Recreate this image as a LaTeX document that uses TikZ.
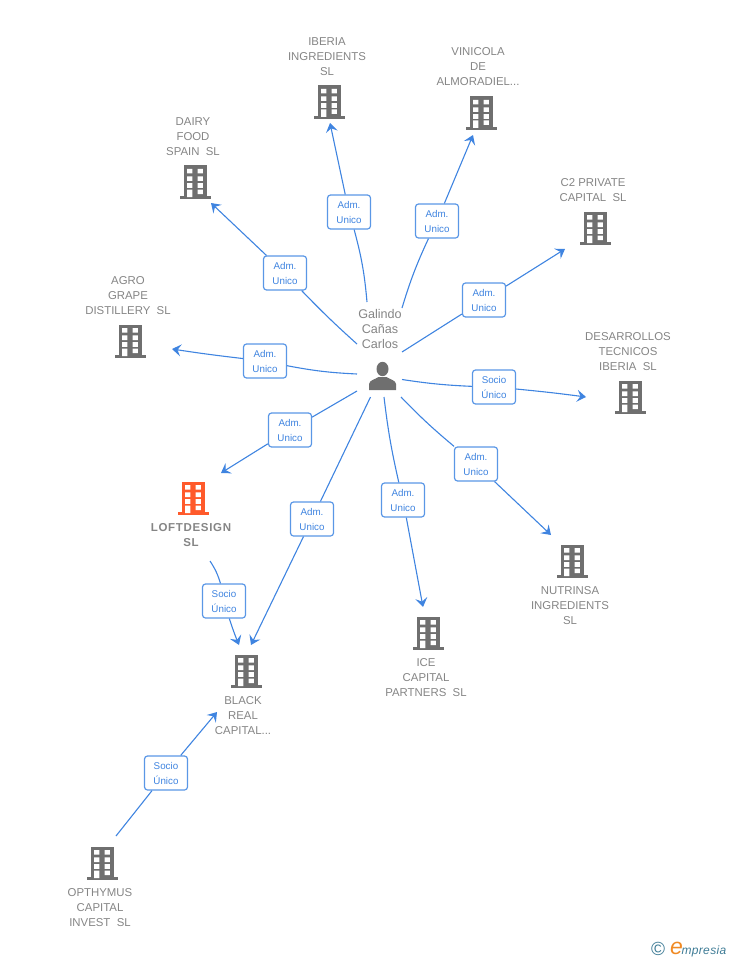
\documentclass[tikz,border=0pt]{standalone}
\usepackage{fontspec}
\setmainfont{Liberation Sans}
\usetikzlibrary{arrows.meta}
\definecolor{linkblue}{HTML}{3F84E0}
\definecolor{boxblue}{HTML}{5A97E6}
\definecolor{textgray}{HTML}{858585}
\definecolor{iconcol}{HTML}{6F6F6F}
\definecolor{hotcol}{HTML}{FF5A2B}
\definecolor{logoteal}{HTML}{3F7C96}
\definecolor{logoorange}{HTML}{F08A24}
\tikzset{
  x=1pt,y=-1pt,
  conn/.style={draw=linkblue,line width=1.1pt},
  arr/.style={conn,-{Stealth[length=9pt,width=12pt,inset=3.5pt]}},
  linkbox/.style={draw=boxblue,line width=1.2pt,rounded corners=3pt,fill=white,
    minimum width=43pt,minimum height=34pt,inner sep=0pt,align=center,
    text=linkblue,font=\fontsize{9.8}{15}\selectfont},
  entity/.style={text=textgray,align=center,inner sep=0pt,font=\fontsize{11.4}{15}\selectfont},
  hotentity/.style={entity,font=\fontsize{11.5}{15}\selectfont\bfseries\addfontfeature{LetterSpace=6}},
  iconbox/.style={minimum width=31pt,minimum height=33pt,inner sep=0pt},
  pics/bldg/.style={code={
    \fill[#1] (-11.5,-16.5) rectangle (11.5,15);
    \fill[#1] (-15.5,14) rectangle (16,17);
    \fill[white]
      (-8,-13) rectangle (-2.7,-8.5) (2.5,-13) rectangle (7.8,-8.5)
      (-8,-5.7) rectangle (-2.7,-1) (2.5,-5.7) rectangle (7.8,-1)
      (-8,1.2) rectangle (-2.7,5.8) (2.5,1.2) rectangle (7.8,5.8)
      (-8,7.5) rectangle (-2.7,15) (2.5,7.5) rectangle (7.8,12);
  }}
}
\begin{document}
\begin{tikzpicture}
\useasboundingbox (0,0) rectangle (728,960);
% icons
\foreach \n/\px/\py/\c in {iberia/329/102/iconcol,vinicola/481/113/iconcol,dairy/195/182/iconcol,
  ctwo/595/228/iconcol,desarrollos/630/397/iconcol,agro/130/341/iconcol,loft/193/498/hotcol,
  black/246/671/iconcol,ice/428/633/iconcol,nutrinsa/572/561/iconcol,opthymus/102/863/iconcol}{
  \node[iconbox] (\n) at (\px,\py) {};
  \pic at (\px,\py) {bldg=\c};
}
% person
\node[iconbox,minimum width=27pt,minimum height=28pt] (person) at (382.5,376) {};
\fill[iconcol] (382.5,369) ellipse (6 and 7.2);
\fill[iconcol] (369,390) -- (369,384) .. controls (369.5,380) and (375,379.5) .. (378.5,377)
  -- (386.5,377) .. controls (390,379.5) and (395.5,380) .. (396,384) -- (396,390) -- cycle;
% texts
\node[entity] (tiberia) at (327,57) {IBERIA\\INGREDIENTS\\SL};
\node[entity] (tvinicola) at (478,67) {VINICOLA\\DE\\ALMORADIEL...};
\node[entity] (tdairy) at (193,137) {DAIRY\\FOOD\\SPAIN\ \ SL};
\node[entity] (tctwo) at (593,190) {C2 PRIVATE\\CAPITAL\ \ SL};
\node[entity] (tdes) at (628,352) {DESARROLLOS\\TECNICOS\\IBERIA\ \ SL};
\node[entity] (tagro) at (128,296) {AGRO\\GRAPE\\DISTILLERY\ \ SL};
\node[hotentity] (tloft) at (191,535) {LOFTDESIGN\\SL};
\node[entity] (tblack) at (243,716) {BLACK\\REAL\\CAPITAL...};
\node[entity] (tice) at (426,678) {ICE\\CAPITAL\\PARTNERS\ \ SL};
\node[entity] (tnut) at (570,606) {NUTRINSA\\INGREDIENTS\\SL};
\node[entity] (topt) at (100,908) {OPTHYMUS\\CAPITAL\\INVEST\ \ SL};
\node[entity,font=\fontsize{12.6}{15}\selectfont] (tperson) at (380,328.5) {Galindo\\Cañas\\Carlos};
% link boxes
\node[linkbox] (l1) at (349,212) {Adm.\\Unico};
\node[linkbox] (l2) at (437,221) {Adm.\\Unico};
\node[linkbox] (l3) at (285,273) {Adm.\\Unico};
\node[linkbox] (l4) at (484,300) {Adm.\\Unico};
\node[linkbox] (l5) at (265,361) {Adm.\\Unico};
\node[linkbox] (l6) at (494,387) {Socio\\Único};
\node[linkbox] (l7) at (290,430) {Adm.\\Unico};
\node[linkbox] (l8) at (312,519) {Adm.\\Unico};
\node[linkbox] (l9) at (403,500) {Adm.\\Unico};
\node[linkbox] (l10) at (476,464) {Adm.\\Unico};
\node[linkbox] (l11) at (224,601) {Socio\\Único};
\node[linkbox] (l12) at (166,773) {Socio\\Único};
% free ends
\coordinate (s1) at (367,302); \coordinate (e1) at (330,123);
\coordinate (s2) at (402,308); \coordinate (e2) at (473,135);
\coordinate (s3) at (357,344); \coordinate (e3) at (211,203);
\coordinate (s4) at (402,352); \coordinate (e4) at (565,249);
\coordinate (s5) at (357,374); \coordinate (e5) at (172,349);
\coordinate (s6) at (402,379.5); \coordinate (e6) at (586,397);
\coordinate (s7) at (357,391); \coordinate (e7) at (221,473);
\coordinate (s8) at (370.5,397); \coordinate (e8) at (251,645);
\coordinate (s9) at (384,397); \coordinate (e9) at (423,607);
\coordinate (s10) at (401,397); \coordinate (e10) at (551,535);
\coordinate (s11) at (210,561); \coordinate (e11) at (239,645);
\coordinate (s12) at (116,836); \coordinate (e12) at (217,712);
% connectors
\draw[conn] (s1) to[bend right=5] (l1);
\draw[arr] (l1) -- (e1);
\draw[conn] (s2) to[bend left=4] (l2);
\draw[arr] (l2) -- (e2);
\draw[conn] (s3) to[bend left=2] (l3);
\draw[arr] (l3) -- (e3);
\draw[conn] (s4) -- (l4);
\draw[arr] (l4) -- (e4);
\draw[conn] (s5) to[bend left=4] (l5);
\draw[arr] (l5) to[bend left=1] (e5);
\draw[conn] (s6) to[bend right=3] (l6);
\draw[arr] (l6) to[bend left=1] (e6);
\draw[conn] (s7) -- (l7);
\draw[arr] (l7) -- (e7);
\draw[conn] (s8) -- (l8);
\draw[arr] (l8) -- (e8);
\draw[conn] (s9) to[bend right=3] (l9);
\draw[arr] (l9) -- (e9);
\draw[conn] (s10) to[bend right=3] (l10);
\draw[arr] (l10) -- (e10);
\draw[conn] (s11) to[bend left=8] (l11);
\draw[arr] (l11) to[bend right=2] (e11);
\draw[conn] (s12) -- (l12);
\draw[arr] (l12) -- (e12);
% logo
\node[inner sep=0pt,text=logoteal,font=\fontsize{19}{19}\selectfont] (copy) at (658,949) {©};
\node[inner sep=0pt,anchor=base west] (logo) at (670,954) {\fontsize{23}{23}\selectfont\itshape\color{logoorange}e\hspace{-1.5pt}\fontsize{12}{15}\selectfont\color{logoteal}\addfontfeature{LetterSpace=3}mpresia};
\end{tikzpicture}
\end{document}
